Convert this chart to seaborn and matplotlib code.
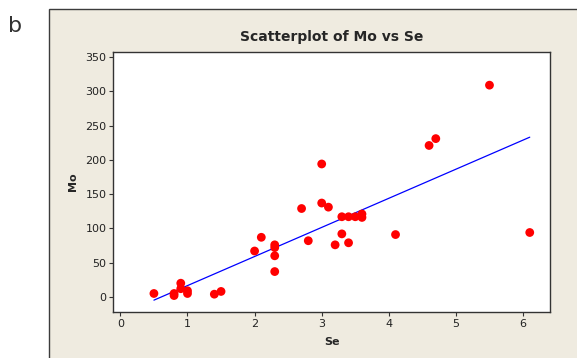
import numpy as np
import pandas as pd
import matplotlib
matplotlib.use("Agg")
import matplotlib.pyplot as plt
from matplotlib.patches import Rectangle
import seaborn as sns

# values
se = [0.5, 0.8, 0.8, 0.9, 0.9, 1.0, 1.0, 1.4, 1.5,
      2.0, 2.1, 2.3, 2.3, 2.3, 2.3,
      2.7, 2.8, 3.0, 3.0, 3.1, 3.2, 3.3, 3.3, 3.4, 3.4, 3.5, 3.6, 3.6,
      4.1, 4.6, 4.7, 5.5, 6.1]
mo = [5, 2, 5, 20, 12, 9, 5, 4, 8,
      67, 87, 76, 72, 60, 37,
      129, 82, 194, 137, 131, 76, 117, 92, 117, 79, 117, 121, 116,
      91, 221, 231, 309, 94]
x_ticks = [0, 1, 2, 3, 4, 5, 6]
y_ticks = [0, 50, 100, 150, 200, 250, 300, 350]

df = pd.DataFrame({"Se": se, "Mo": mo})

sns.set_style("ticks")
plt.rcParams["font.family"] = ["DejaVu Sans"]

fig = plt.figure(figsize=(5.77, 3.58), dpi=100)
fig.patch.set_facecolor("white")

# beige Minitab-style panel behind the graph
panel = Rectangle((49 / 577, -0.01), 1.0, 1 - 9 / 358 + 0.01, transform=fig.transFigure,
                  facecolor="#efebe0", edgecolor="#3c3c3c", linewidth=1.0, zorder=-5)
fig.patches.append(panel)
fig.text(8 / 577, 1 - 26 / 358, "b", fontsize=16, va="center", ha="left", color="#333333")

ax = fig.add_axes([0.1964, 0.1285, 0.953 - 0.1964, 0.854 - 0.1285])
ax.set_zorder(2)
ax.set_facecolor("white")

sns.regplot(data=df, x="Se", y="Mo", scatter=False, ci=None, ax=ax,
            line_kws={"color": "#0000ff", "linewidth": 0.9})
sns.scatterplot(data=df, x="Se", y="Mo", ax=ax, color="#ff0000", s=40,
                edgecolor="none", zorder=3)

ax.set_xlim(-0.105, 6.4)
ax.set_ylim(-22, 357)
ax.set_xticks(x_ticks)
ax.set_yticks(y_ticks)
ax.tick_params(labelsize=8, length=3, width=0.8, color="#333333", labelcolor="#222222", pad=2)
for s in ax.spines.values():
    s.set_linewidth(1.0)
    s.set_color("#333333")

ax.set_xlabel("Se", fontsize=8, fontweight="bold", labelpad=6)
ax.set_ylabel("Mo", fontsize=8, fontweight="bold", labelpad=5)
ax.set_title("Scatterplot of Mo vs Se", fontsize=10, fontweight="bold", pad=8)

fig.savefig("out.png", dpi=100)
